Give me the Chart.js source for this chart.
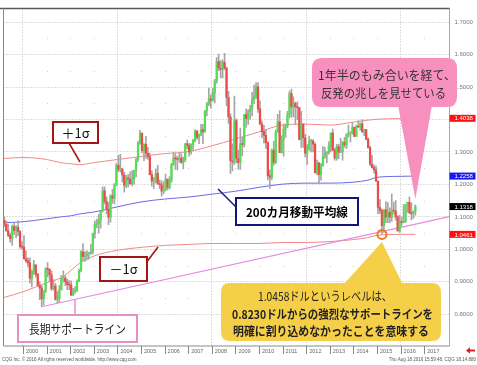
<!DOCTYPE html>
<html><head><meta charset="utf-8">
<script src="https://cdn.jsdelivr.net/npm/chart.js@4/dist/chart.umd.min.js"></script>
<style>html,body{margin:0;padding:0;background:#fff}#wrap{width:477px;height:365px;position:relative}</style>
</head><body><div id="wrap"><canvas id="c" width="477" height="365"></canvas></div>
<script>
// Monthly EUR/USD candles, first month shown = March 1999
const startYear = 1999, startMonth = 3;
const opens = [
1.089,1.077,1.057,1.043,1.033,1.070,1.058,1.068,1.055,1.008,
1.007,0.971,0.965,0.958,0.911,0.933,0.952,0.923,0.889,0.881,0.847,0.872,
0.939,0.938,0.921,0.879,0.887,0.845,0.849,0.876,0.911,0.911,0.900,0.891,
0.890,0.859,0.870,0.872,0.902,0.934,0.992,0.977,0.981,0.987,0.988,0.993,
1.049,1.076,1.078,1.091,1.118,1.180,1.148,1.123,1.099,1.165,1.158,1.199,
1.259,1.246,1.248,1.229,1.197,1.220,1.216,1.202,1.217,1.242,1.276,1.326,
1.357,1.304,1.324,1.296,1.286,1.230,1.210,1.212,1.234,1.203,1.199,1.179,
1.185,1.216,1.191,1.212,1.262,1.281,1.279,1.277,1.281,1.268,1.276,1.325,
1.320,1.300,1.323,1.336,1.365,1.345,1.354,1.369,1.362,1.427,1.448,1.464,
1.459,1.484,1.519,1.579,1.559,1.554,1.576,1.559,1.468,1.408,1.273,1.269,
1.397,1.280,1.267,1.325,1.323,1.415,1.403,1.425,1.433,1.463,1.472,1.501,
1.433,1.386,1.363,1.351,1.329,1.227,1.222,1.305,1.268,1.361,1.393,1.298,
1.338,1.370,1.380,1.416,1.480,1.439,1.450,1.439,1.437,1.339,1.386,1.344,
1.296,1.309,1.332,1.334,1.324,1.236,1.266,1.230,1.258,1.286,1.296,1.299,
1.319,1.358,1.306,1.282,1.317,1.299,1.301,1.330,1.322,1.353,1.358,1.359,
1.376,1.348,1.380,1.377,1.387,1.363,1.369,1.339,1.313,1.263,1.252,1.245,
1.210,1.129,1.120,1.073,1.122,1.099,1.115,1.099,1.121,1.118,1.100,1.057,
1.086,1.083,1.087,1.138,1.145,1.113,1.110,1.117];
const highs = [
1.100,1.087,1.078,1.050,1.075,1.081,1.073,1.088,1.058,1.024,
1.042,0.995,0.974,0.974,0.936,0.966,0.952,0.926,0.900,0.888,0.872,0.944,
0.959,0.940,0.933,0.907,0.895,0.870,0.889,0.920,0.934,0.919,0.908,0.904,
0.903,0.880,0.885,0.906,0.939,0.996,1.018,0.993,0.995,0.991,1.015,1.050,
1.088,1.093,1.108,1.119,1.193,1.193,1.162,1.144,1.168,1.185,1.203,1.265,
1.290,1.293,1.248,1.238,1.228,1.231,1.239,1.243,1.244,1.281,1.333,1.367,
1.360,1.326,1.348,1.314,1.297,1.242,1.222,1.248,1.259,1.214,1.211,1.208,
1.232,1.217,1.224,1.265,1.298,1.295,1.287,1.297,1.294,1.284,1.327,1.337,
1.327,1.325,1.339,1.368,1.365,1.355,1.385,1.385,1.428,1.453,1.497,1.476,
1.497,1.524,1.591,1.602,1.582,1.584,1.604,1.562,1.487,1.418,1.325,1.472,
1.402,1.306,1.374,1.346,1.415,1.433,1.430,1.444,1.484,1.506,1.514,1.514,
1.458,1.396,1.382,1.369,1.331,1.244,1.310,1.333,1.368,1.416,1.428,1.350,
1.386,1.386,1.425,1.488,1.494,1.470,1.454,1.455,1.437,1.425,1.387,1.355,
1.323,1.349,1.339,1.338,1.328,1.275,1.269,1.264,1.317,1.314,1.301,1.331,
1.360,1.371,1.311,1.324,1.324,1.342,1.334,1.345,1.357,1.383,1.362,1.390,
1.377,1.383,1.397,1.390,1.399,1.369,1.370,1.344,1.319,1.289,1.260,1.257,
1.210,1.153,1.124,1.122,1.147,1.144,1.128,1.171,1.146,1.150,1.103,1.105,
1.100,1.138,1.139,1.146,1.162,1.143,1.119,1.137];
const lows = [
1.070,1.056,1.039,1.022,1.012,1.045,1.035,1.042,1.003,0.999,
0.970,0.960,0.946,0.896,0.884,0.923,0.914,0.887,0.845,0.823,0.829,0.866,
0.915,0.900,0.873,0.874,0.844,0.835,0.837,0.874,0.899,0.888,0.876,0.876,
0.857,0.858,0.864,0.870,0.900,0.930,0.965,0.963,0.967,0.970,0.985,0.986,
1.034,1.066,1.050,1.065,1.115,1.140,1.110,1.076,1.084,1.142,1.140,1.196,
1.239,1.238,1.208,1.176,1.190,1.192,1.200,1.196,1.201,1.223,1.270,1.323,
1.297,1.273,1.280,1.277,1.229,1.195,1.187,1.204,1.199,1.187,1.164,1.171,
1.180,1.183,1.186,1.206,1.259,1.246,1.245,1.269,1.265,1.248,1.270,1.310,
1.287,1.293,1.307,1.331,1.339,1.326,1.350,1.326,1.361,1.411,1.443,1.435,
1.457,1.451,1.512,1.551,1.528,1.528,1.553,1.443,1.388,1.233,1.242,1.262,
1.266,1.246,1.246,1.289,1.316,1.376,1.385,1.401,1.411,1.449,1.464,1.422,
1.386,1.344,1.327,1.311,1.214,1.188,1.215,1.259,1.264,1.361,1.298,1.296,
1.287,1.345,1.375,1.405,1.407,1.408,1.384,1.400,1.337,1.314,1.314,1.285,
1.262,1.306,1.300,1.300,1.235,1.229,1.204,1.213,1.256,1.280,1.266,1.293,
1.300,1.303,1.275,1.275,1.279,1.298,1.275,1.314,1.310,1.346,1.330,1.354,
1.347,1.348,1.375,1.367,1.359,1.350,1.338,1.312,1.257,1.250,1.235,1.210,
1.110,1.110,1.0458,1.052,1.082,1.082,1.081,1.086,1.108,1.090,1.056,1.052,
1.071,1.081,1.082,1.114,1.110,1.091,1.095,1.105];
const closes = [
1.077,1.057,1.043,1.033,1.070,1.058,1.068,1.055,1.008,1.007,
0.971,0.965,0.958,0.911,0.933,0.952,0.923,0.889,0.881,0.847,0.872,0.939,
0.938,0.921,0.879,0.887,0.845,0.849,0.876,0.911,0.911,0.900,0.891,0.890,
0.859,0.870,0.872,0.902,0.934,0.992,0.977,0.981,0.987,0.988,0.993,1.049,
1.076,1.078,1.091,1.118,1.180,1.148,1.123,1.099,1.165,1.158,1.199,1.259,
1.246,1.248,1.229,1.197,1.220,1.216,1.202,1.217,1.242,1.276,1.326,1.357,
1.304,1.324,1.296,1.286,1.230,1.210,1.212,1.234,1.203,1.199,1.179,1.185,
1.216,1.191,1.212,1.262,1.281,1.279,1.277,1.281,1.268,1.276,1.325,1.320,
1.300,1.323,1.336,1.365,1.345,1.354,1.369,1.362,1.427,1.448,1.464,1.459,
1.484,1.519,1.579,1.559,1.554,1.576,1.559,1.468,1.408,1.273,1.269,1.397,
1.280,1.267,1.325,1.323,1.415,1.403,1.425,1.433,1.463,1.472,1.501,1.433,
1.386,1.363,1.351,1.329,1.227,1.222,1.305,1.268,1.361,1.393,1.298,1.338,
1.370,1.380,1.416,1.480,1.439,1.450,1.439,1.437,1.339,1.386,1.344,1.296,
1.309,1.332,1.334,1.324,1.236,1.266,1.230,1.258,1.286,1.296,1.299,1.319,
1.358,1.306,1.282,1.317,1.299,1.301,1.330,1.322,1.353,1.358,1.359,1.376,
1.348,1.380,1.377,1.387,1.363,1.369,1.339,1.313,1.263,1.252,1.245,1.210,
1.129,1.120,1.073,1.122,1.099,1.115,1.099,1.121,1.118,1.100,1.057,1.086,
1.083,1.087,1.138,1.145,1.113,1.110,1.117,1.1318];

// Indicator lines (x in fractional years)
const bandYears = [1999.17,2000,2001,2001.6,2002,2002.4,2003,2004,2005,2006,2007,2008,2009,2010,2011,2012,2013,2014,2014.6,2015,2016,2016.63];
const maLine    = [1.082,1.085,1.094,1.100,1.103,1.109,1.115,1.131,1.146,1.155,1.161,1.170,1.179,1.191,1.201,1.204,1.204,1.207,1.213,1.222,1.225,1.2258];
const upperBand = [1.280,1.283,1.277,1.267,1.264,1.261,1.267,1.277,1.286,1.295,1.301,1.319,1.340,1.362,1.383,1.386,1.383,1.392,1.398,1.401,1.403,1.4038];
const lowerBand = [0.851,0.869,0.897,0.912,0.933,0.957,0.979,0.997,1.006,1.012,1.015,1.018,1.018,1.018,1.021,1.021,1.024,1.030,1.036,1.043,1.046,1.0461];
const supportYears  = [2000.79, 2018.07];
const supportValues = [0.823, 1.101];
const lowMarkYear = 2015.21, lowMarkValue = 1.0458;

const yearTicks  = [2000,2001,2002,2003,2004,2005,2006,2007,2008,2009,2010,2011,2012,2013,2014,2015,2016,2017];
const priceTicks = [0.8,0.9,1.0,1.1,1.2,1.3,1.4,1.5,1.6,1.7];

const months = opens.map((_, i) => startYear + (startMonth - 1 + i + 0.5) / 12);
const pts = (xs, ys) => xs.map((x, i) => ({x, y: ys[i]}));

const JP = '"Noto Sans CJK JP", "Noto Sans", sans-serif';
const SANS = '"Liberation Sans", Arial, sans-serif';

function rr(ctx, x, y, w, h, r) {
  ctx.beginPath();
  ctx.moveTo(x + r, y); ctx.lineTo(x + w - r, y); ctx.quadraticCurveTo(x + w, y, x + w, y + r);
  ctx.lineTo(x + w, y + h - r); ctx.quadraticCurveTo(x + w, y + h, x + w - r, y + h);
  ctx.lineTo(x + r, y + h); ctx.quadraticCurveTo(x, y + h, x, y + h - r);
  ctx.lineTo(x, y + r); ctx.quadraticCurveTo(x, y, x + r, y); ctx.closePath();
}
function box(ctx, x, y, w, h, color, lw) {
  ctx.fillStyle = '#fff'; ctx.fillRect(x, y, w, h);
  ctx.strokeStyle = color; ctx.lineWidth = lw; ctx.strokeRect(x, y, w, h);
}
function line(ctx, x1, y1, x2, y2, color, lw) {
  ctx.beginPath(); ctx.moveTo(x1, y1); ctx.lineTo(x2, y2);
  ctx.strokeStyle = color; ctx.lineWidth = lw; ctx.stroke();
}

const deco = {
  id: 'deco',
  beforeDatasetsDraw(chart) {
    const {ctx, chartArea: a, scales: {x, y}} = chart;
    ctx.save();
    ctx.fillStyle = '#cfcfcf';
    for (const yr of yearTicks) {
      if (yr % 4 === 0) continue;
      const px = Math.round(x.getPixelForValue(yr));
      for (const v of priceTicks) {
        const py = Math.round(y.getPixelForValue(v + 0.05));
        if (py > a.top && py < a.bottom) ctx.fillRect(px, py, 1, 1);
      }
    }
    ctx.restore();
  },
  afterDraw(chart) {
    const {ctx, chartArea: a, scales: {x, y}} = chart;
    ctx.save();
    // frame
    line(ctx, 0, a.top, a.right, a.top, '#5a5a5a', 1.5);
    line(ctx, a.left, a.top, a.left, a.bottom, '#8a8a8a', 1);
    line(ctx, a.left, a.bottom, a.right, a.bottom, '#8a8a8a', 1);
    ctx.setLineDash([1, 1]);
    line(ctx, a.right, a.top, a.right, a.bottom, '#555', 1);
    ctx.setLineDash([]);
    // year tick marks
    for (const yr of yearTicks) {
      const px = Math.round(x.getPixelForValue(yr)) + 0.5;
      line(ctx, px, a.bottom, px, a.bottom + 8, '#888', 1);
    }
    // last value boxes on the price axis
    const tags = [[upperBand.at(-1), '#ff1010'], [maLine.at(-1), '#1818ee'], [closes.at(-1), '#000'], [lowerBand.at(-1), '#ff1010']];
    ctx.font = '6px ' + SANS; ctx.textBaseline = 'middle'; ctx.textAlign = 'left';
    for (const [v, c] of tags) {
      const py = y.getPixelForValue(v);
      ctx.fillStyle = c; ctx.fillRect(a.right, py - 3.5, 26, 7);
      ctx.fillStyle = '#fff'; ctx.fillText(v.toFixed(4), a.right + 5, py + 0.5);
    }
    // footer
    ctx.fillStyle = '#555'; ctx.font = '4.5px ' + SANS; ctx.textBaseline = 'middle';
    ctx.textAlign = 'left'; ctx.fillText('CQG Inc. \u00a9 2016 All rights reserved worldwide. http://www.cqg.com', 2, 360);
    ctx.textAlign = 'right'; ctx.fillText('Thu Aug 18 2016 15:59:48, CQG 18.14.880', 476, 360);
    ctx.fillStyle = '#e02020';
    ctx.beginPath(); ctx.moveTo(466, 350.5); ctx.lineTo(470, 347.3); ctx.lineTo(470, 349.5); ctx.lineTo(475, 349.5);
    ctx.lineTo(475, 351.5); ctx.lineTo(470, 351.5); ctx.lineTo(470, 353.7); ctx.closePath(); ctx.fill();

    // +1σ
    line(ctx, 69, 143, 80, 162, '#a31515', 1.5);
    box(ctx, 53, 122, 45, 21, '#a31515', 2);
    ctx.fillStyle = '#111'; ctx.font = '13px ' + JP; ctx.textAlign = 'center'; ctx.textBaseline = 'middle';
    ctx.fillText('＋1σ', 75.5, 133);
    // −1σ
    line(ctx, 146, 263, 158, 247, '#a31515', 1.5);
    box(ctx, 100, 257, 47, 24, '#a31515', 2);
    ctx.fillStyle = '#111'; ctx.fillText('－1σ', 123.5, 269.5);
    // 200-month MA
    line(ctx, 237, 208, 218, 189, '#14147a', 1.5);
    box(ctx, 236, 198, 122, 27, '#14147a', 2);
    ctx.fillStyle = '#000'; ctx.font = 'bold 12px ' + JP;
    ctx.fillText('200カ月移動平均線', 297, 212, 102);
    // support line label
    line(ctx, 75, 300, 75, 315, '#e48fc6', 1.5);
    box(ctx, 18, 315, 119, 27, '#e48fc6', 2);
    ctx.fillStyle = '#222'; ctx.font = '12px ' + JP;
    ctx.fillText('長期サポートライン', 77.5, 329, 97);

    // pink callout pointing at the last candle
    const tipX = x.getPixelForValue(months.at(-1)), tipY = y.getPixelForValue(highs.at(-1)) - 6;
    ctx.fillStyle = '#f78fbf';
    rr(ctx, 312, 58, 145, 49, 10); ctx.fill();
    ctx.beginPath(); ctx.moveTo(398, 105); ctx.lineTo(432, 105); ctx.lineTo(tipX, tipY); ctx.closePath(); ctx.fill();
    ctx.fillStyle = '#333'; ctx.font = '12px ' + JP; ctx.textAlign = 'left';
    ctx.fillText('1年半のもみ合いを経て、', 318, 75, 138);
    ctx.fillText('反発の兆しを見せている', 321, 93, 125);

    // orange circle at the 2015 low
    const cx = x.getPixelForValue(lowMarkYear), cy = y.getPixelForValue(lowMarkValue);
    ctx.beginPath(); ctx.arc(cx, cy, 4.5, 0, Math.PI * 2);
    ctx.strokeStyle = '#ef7d1f'; ctx.lineWidth = 2; ctx.stroke();

    // yellow callout
    ctx.fillStyle = '#f6cf48';
    rr(ctx, 221, 283, 220, 58, 9); ctx.fill();
    ctx.beginPath(); ctx.moveTo(343, 285); ctx.lineTo(403, 285); ctx.lineTo(cx, cy + 7.5); ctx.closePath(); ctx.fill();
    ctx.fillStyle = '#222'; ctx.textAlign = 'left';
    ctx.font = '12px ' + JP;
    ctx.fillText('1.0458ドルというレベルは、', 258, 296, 134);
    ctx.font = 'bold 12px ' + JP;
    ctx.fillText('0.8230ドルからの強烈なサポートラインを', 232, 314, 201);
    ctx.fillText('明確に割り込めなかったことを意味する', 233, 331, 196);
    ctx.restore();
  }
};

new Chart(document.getElementById('c'), {
  type: 'bar',
  data: {
    datasets: [
      {type: 'line', data: pts(bandYears, upperBand), borderColor: '#f08a8a', borderWidth: 1, pointRadius: 0, tension: 0.4, cubicInterpolationMode: 'monotone', order: 5},
      {type: 'line', data: pts(bandYears, lowerBand), borderColor: '#f08a8a', borderWidth: 1, pointRadius: 0, tension: 0.4, cubicInterpolationMode: 'monotone', order: 5},
      {type: 'line', data: pts(bandYears, maLine), borderColor: '#6a6ae6', borderWidth: 1, pointRadius: 0, tension: 0.4, cubicInterpolationMode: 'monotone', order: 5},
      {type: 'line', data: pts(supportYears, supportValues), borderColor: '#e68be0', borderWidth: 1.2, pointRadius: 0, order: 4},
      {type: 'bar', data: months.map((m, i) => ({x: m, y: [lows[i], highs[i]]})), backgroundColor: '#a6a6a6', barThickness: 1, grouped: false, order: 2},
      {type: 'bar', data: months.map((m, i) => ({x: m, y: [Math.min(opens[i], closes[i]), Math.max(opens[i], closes[i])]})),
        backgroundColor: months.map((m, i) => closes[i] >= opens[i] ? '#55dd55' : '#ee4a4a'),
        barThickness: 1.6, minBarLength: 1, grouped: false, order: 1}
    ]
  },
  options: {
    responsive: false, animation: false, devicePixelRatio: 1, events: [],
    layout: {padding: {left: 3.5, top: 4, right: 0, bottom: 0}},
    plugins: {legend: {display: false}, tooltip: {enabled: false}},
    scales: {
      x: {
        type: 'linear', min: 1999.174, max: 2018.072, offset: false,
        afterBuildTicks: s => { s.ticks = yearTicks.map(v => ({value: v})); },
        afterFit: s => { s.height = 19; },
        grid: {drawTicks: false, offset: false, color: c => (c.tick && c.tick.value % 4 === 0) ? '#bdbdbd' : 'rgba(0,0,0,0)'},
        border: {display: false, dash: [1, 2]},
        ticks: {autoSkip: false, maxRotation: 0, align: 'start', labelOffset: 3, padding: 2, color: '#666',
          font: {size: 5.5, family: SANS}, callback: v => String(v)}
      },
      y: {
        position: 'right', min: 0.702, max: 1.742, beginAtZero: false,
        afterBuildTicks: s => { s.ticks = priceTicks.map(v => ({value: v})); },
        afterFit: s => { s.width = 27.5; },
        grid: {drawTicks: false, color: '#bdbdbd'},
        border: {display: false, dash: [1, 2]},
        ticks: {padding: 5, color: '#777', font: {size: 6, family: SANS}, callback: v => Number(v).toFixed(4)}
      }
    }
  },
  plugins: [deco]
});
</script></body></html>
